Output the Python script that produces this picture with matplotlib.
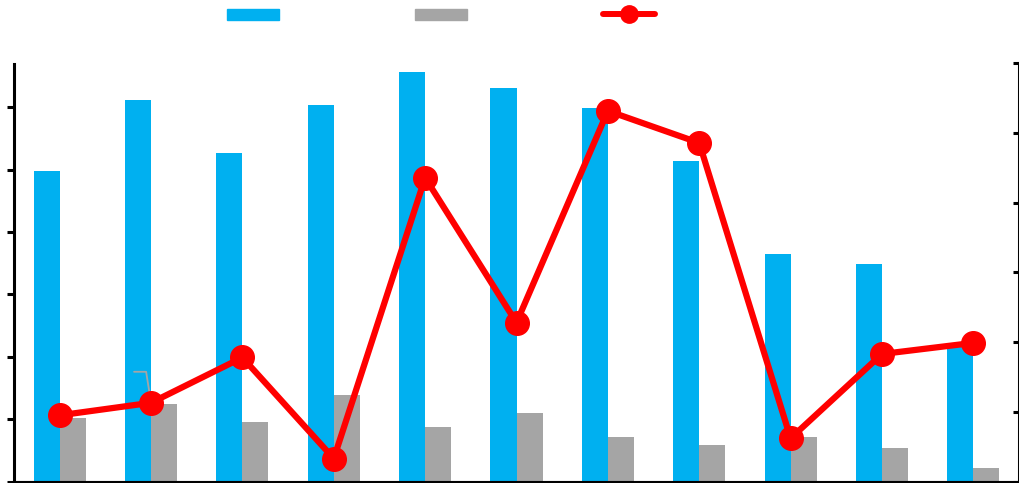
import numpy as np
import matplotlib
matplotlib.use('Agg')
import matplotlib.pyplot as plt
from matplotlib.patches import Patch
from matplotlib.lines import Line2D

# Data (no text labels in the picture)
categories = list(range(11))
blue_values = [4.98, 6.11, 5.27, 6.03, 6.57, 6.30, 5.99, 5.13, 3.64, 3.48, 2.16]
gray_values = [1.01, 1.25, 0.95, 1.39, 0.88, 1.09, 0.71, 0.59, 0.72, 0.53, 0.22]
line_values = [0.95, 1.13, 1.78, 0.33, 4.36, 2.28, 5.32, 4.86, 0.62, 1.83, 1.99]

blue = '#00B0F0'
gray = '#A5A5A5'
red = '#FF0000'

fig = plt.figure(figsize=(10.2, 4.83), dpi=100)
ax = fig.add_axes([14 / 1020, 1.5 / 483, (1019 - 14) / 1020, (482 - 64) / 483])
ax2 = ax.twinx()

x = np.arange(len(categories))
w = 0.285
ax.bar(x - w / 2, blue_values, width=w, color=blue, zorder=2)
ax.bar(x + w / 2, gray_values, width=w, color=gray, zorder=2)

ax2.plot(x, line_values, color=red, linewidth=4.5, marker='o', markersize=17,
         solid_capstyle='round', zorder=3)

# leftover leader line of a data label near the 2nd point
ax2.annotate('', xy=(x[1], line_values[1]), xytext=(-17, 31), textcoords='offset pixels',
             arrowprops=dict(arrowstyle='-', color=gray, lw=1.3, shrinkA=0, shrinkB=0,
                             connectionstyle='angle,angleA=0,angleB=99,rad=0'),
             zorder=1)

ax.set_xlim(-0.5, 10.5)
ax.set_ylim(0, 6.7)
ax.set_yticks(np.arange(0, 7))
ax2.set_ylim(0, 6)
ax2.set_yticks(np.arange(0, 7))
ax.set_xticks([])

for a in (ax, ax2):
    a.spines['top'].set_visible(False)
    a.set_yticklabels([])
    for s in ('left', 'right', 'bottom'):
        a.spines[s].set_linewidth(2.2)
        a.spines[s].set_color('black')

ax.spines['right'].set_visible(False)
ax2.spines['left'].set_visible(False)
ax.tick_params(axis='y', direction='out', length=5, width=2.2, color='black')
ax2.tick_params(axis='y', direction='in', length=4, width=2.2, color='black')

# legend without text
handles = [Patch(color=blue), Patch(color=gray),
           Line2D([0], [0], color=red, linewidth=4.3, marker='o', markersize=12.5,
                  solid_capstyle='round')]
fig.legend(handles, ['', '', ''], loc='center', bbox_to_anchor=(441 / 1020, 1 - 15.5 / 483),
           ncol=3, frameon=False, handlelength=3.74, handleheight=0.8,
           handletextpad=0, columnspacing=9.8, fontsize=10)

plt.savefig('out.png', dpi=100)
